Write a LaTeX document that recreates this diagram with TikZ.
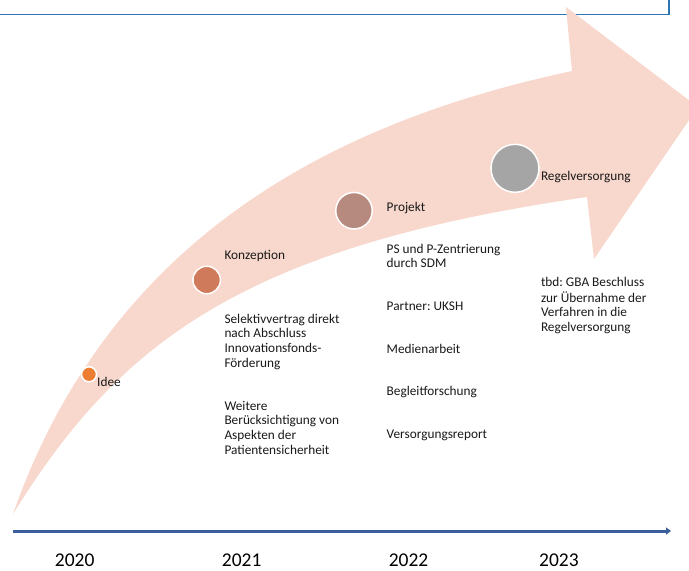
\documentclass[tikz,border=0pt]{standalone}
\usepackage{fontspec}
\setmainfont{Carlito}
\usetikzlibrary{arrows.meta}
\frenchspacing
\definecolor{band}{HTML}{F8D8CD}
\definecolor{boxblue}{HTML}{2E75B6}
\definecolor{lineblue}{HTML}{3A5D9C}
\definecolor{cIdee}{HTML}{ED7D31}
\definecolor{cKonz}{HTML}{D07A5C}
\definecolor{cProj}{HTML}{B78A80}
\definecolor{cRegel}{HTML}{A5A5A5}
\newcommand{\lblfont}{\fontsize{13.3}{14.8}\selectfont}
\tikzset{
  milestone/.style={circle, draw=white, line width=1.5pt, inner sep=0pt},
  lbl/.style={anchor=base west, inner sep=0pt, font=\lblfont, text=black!90},
  txt/.style={anchor=north west, inner sep=0pt, font=\lblfont, align=left, text=black!90},
  year/.style={anchor=base, inner sep=0pt, font=\fontsize{19.5}{22}\selectfont}
}
\begin{document}
\frenchspacing
\begin{tikzpicture}[x=1pt,y=-1pt]
\clip (0,0) rectangle (689,571);
\useasboundingbox (0,0) rectangle (689,571);
% top box edge
\draw[boxblue, line width=1.5pt] (-5,14.3) -- (669,14.3) -- (669,-5);
% curved arrow band
\fill[band] (13,514) .. controls (108.7,241.4) and (327.5,123) .. (572,71)
  -- (566,7) -- (698,107) -- (594,259) -- (587,197)
  .. controls (240.5,247) and (118.4,344) .. (13,514) -- cycle;
% milestones
\node[milestone, fill=cIdee, minimum size=15pt] (idee) at (89,374.3) {};
\node[milestone, fill=cKonz, minimum size=27.5pt] (konz) at (206.7,280) {};
\node[milestone, fill=cProj, minimum size=36.5pt] (proj) at (354,210.7) {};
\node[milestone, fill=cRegel, minimum size=48pt] (regel) at (515,168.3) {};
% labels
\node[lbl] (tIdee) at (97,386) {Idee};
\node[lbl] (tKonz) at (224.3,259) {Konzeption};
\node[txt] (tSel) at (224.3,312.5) {\strut Selektivvertrag direkt\\nach Abschluss\\Innovationsfonds-\\Förderung};
\node[txt] (tWeit) at (224.3,399.5) {\strut Weitere\\Berücksichtigung von\\Aspekten der\\Patientensicherheit};
\node[lbl] (tProj) at (386.5,211) {Projekt};
\node[txt] (tPS) at (386.5,242.5) {\strut PS und P-Zentrierung\\durch SDM};
\node[lbl] (tPart) at (386.5,310) {Partner: UKSH};
\node[lbl] (tMed) at (386.5,353) {Medienarbeit};
\node[lbl] (tBeg) at (386.5,395) {Begleitforschung};
\node[lbl] (tVer) at (386.5,438) {Versorgungsreport};
\node[lbl] (tRegel) at (540.8,180) {Regelversorgung};
\node[txt] (tTbd) at (540.8,275.5) {\strut tbd: GBA Beschluss\\zur Übernahme der\\Verfahren in die\\Regelversorgung};
% timeline
\coordinate (tlA) at (13,531);
\coordinate (tlB) at (671,531);
\draw[lineblue, line width=3pt, -{Triangle[length=5pt,width=7pt]}] (tlA) -- (tlB);
\node[year] (y20) at (74.7,566.5) {2020};
\node[year] (y21) at (241.7,566.5) {2021};
\node[year] (y22) at (408.6,566.5) {2022};
\node[year] (y23) at (558.9,566.5) {2023};
\end{tikzpicture}
\end{document}
